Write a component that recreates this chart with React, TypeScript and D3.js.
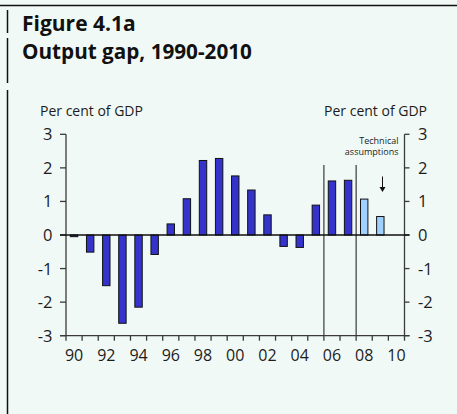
import React from "react";
import * as d3 from "d3";

const years = d3.range(1990, 2011);
const actualYears = [1990, 1991, 1992, 1993, 1994, 1995, 1996, 1997, 1998, 1999, 2000, 2001, 2002, 2003, 2004, 2005, 2006, 2007];
const actualValues = [-0.05, -0.51, -1.51, -2.63, -2.15, -0.58, 0.33, 1.08, 2.22, 2.28, 1.76, 1.34, 0.6, -0.34, -0.37, 0.89, 1.61, 1.63];
const assumedYears = [2008, 2009];
const assumedValues = [1.07, 0.55];
const yTicks = [-3, -2, -1, 0, 1, 2, 3];
const xLabelYears = [1990, 1992, 1994, 1996, 1998, 2000, 2002, 2004, 2006, 2008, 2010];
const dividerYears = [2006, 2008];

const W = 457;
const H = 414;
const FONT = "'Open Sans', 'Noto Sans', sans-serif";

export default function App() {
  const x = d3.scaleBand<number>().domain(years).range([66, 404.5]).padding(0);
  const y = d3.scaleLinear().domain([-3, 3]).range([335.7, 134.3]);
  const bw = x.bandwidth();
  const barW = bw * 0.46;
  const axisColor = "#3a3a3a";
  const textColor = "#1c1c1c";
  const left = 66;
  const right = 404.5;
  const bars = (ys: number[], vs: number[], fill: string) =>
    ys.map((yr, i) => {
      const v = vs[i];
      const cx = (x(yr) as number) + bw / 2;
      const y0 = y(0);
      const y1 = y(v);
      return (
        <rect
          key={yr}
          x={cx - barW / 2}
          y={Math.min(y0, y1)}
          width={barW}
          height={Math.max(1, Math.abs(y1 - y0))}
          fill={fill}
          stroke="#111"
          strokeWidth={1}
        />
      );
    });
  const boundaries = years.map((yr) => x(yr) as number).concat([right]);
  return (
    <svg width={W} height={H} style={{ position: "absolute", left: 0, top: 0, background: "#f1f9f6" }}>
      <rect x={0} y={0} width={W} height={H} fill="#f1f9f6" />
      <line x1={0} x2={W} y1={5.5} y2={5.5} stroke="#111" strokeWidth={1.5} />
      <line x1={7.5} x2={7.5} y1={10} y2={33} stroke="#111" strokeWidth={1.5} />
      <line x1={7.5} x2={7.5} y1={38} y2={83} stroke="#111" strokeWidth={1.5} />
      <line x1={7.5} x2={7.5} y1={90} y2={H} stroke="#111" strokeWidth={1.5} />

      <text x={22} y={30.5} fontFamily={FONT} fontWeight={700} fontSize={21} fill="#111">Figure 4.1a</text>
      <text x={22} y={58.5} fontFamily={FONT} fontWeight={700} fontSize={20.7} fill="#111">Output gap, 1990-2010</text>

      <text x={40} y={115.5} fontFamily={FONT} fontSize={14} fill={textColor}>Per cent of GDP</text>
      <text x={427} y={115.5} fontFamily={FONT} fontSize={14} fill={textColor} textAnchor="end">Per cent of GDP</text>

      {/* left axis */}
      <line x1={left} x2={left} y1={y(3)} y2={y(-3)} stroke={axisColor} strokeWidth={1.3} />
      {yTicks.map((t) => (
        <g key={"l" + t}>
          <line x1={left - 6} x2={left} y1={y(t)} y2={y(t)} stroke={axisColor} strokeWidth={1.3} />
          <text x={52.5} y={y(t) + 6} fontFamily={FONT} fontSize={16.5} fill={textColor} textAnchor="end">{t}</text>
        </g>
      ))}
      {/* right axis */}
      <line x1={right} x2={right} y1={y(3)} y2={y(-3)} stroke={axisColor} strokeWidth={1.3} />
      {yTicks.map((t) => (
        <g key={"r" + t}>
          <line x1={right} x2={right + 5} y1={y(t)} y2={y(t)} stroke={axisColor} strokeWidth={1.3} />
          <text x={418} y={y(t) + 6} fontFamily={FONT} fontSize={16.5} fill={textColor}>{t}</text>
        </g>
      ))}
      {/* bottom axis */}
      <line x1={left - 6} x2={right + 5} y1={y(-3)} y2={y(-3)} stroke={axisColor} strokeWidth={1.3} />
      {boundaries.map((bx, i) => (
        <line key={"bt" + i} x1={bx} x2={bx} y1={y(-3)} y2={y(-3) + 5} stroke={axisColor} strokeWidth={1.3} />
      ))}
      {xLabelYears.map((yr) => (
        <text key={"xl" + yr} x={(x(yr) as number) + bw / 2} y={361} fontFamily={FONT} fontSize={16} fill={textColor} textAnchor="middle">
          {String(yr % 100).padStart(2, "0")}
        </text>
      ))}

      {/* dividers */}
      {dividerYears.map((yr) => (
        <line key={"d" + yr} x1={x(yr) as number} x2={x(yr) as number} y1={165} y2={y(-3)} stroke={axisColor} strokeWidth={1.2} />
      ))}

      {/* bars */}
      {bars(actualYears, actualValues, "#3434cc")}
      {bars(assumedYears, assumedValues, "#9fd0ff")}

      {/* zero line */}
      <line x1={left - 6} x2={right + 5} y1={y(0)} y2={y(0)} stroke="#111" strokeWidth={1.3} />

      {/* annotation */}
      <text x={398.5} y={143.5} fontFamily={FONT} fontSize={9} fill={textColor} textAnchor="end">Technical</text>
      <text x={398.5} y={155} fontFamily={FONT} fontSize={9} fill={textColor} textAnchor="end">assumptions</text>
      <line x1={382.5} x2={382.5} y1={176.5} y2={189} stroke="#111" strokeWidth={1} />
      <path d="M379.5,187 L385.5,187 L382.5,192 Z" fill="#111" />
    </svg>
  );
}
